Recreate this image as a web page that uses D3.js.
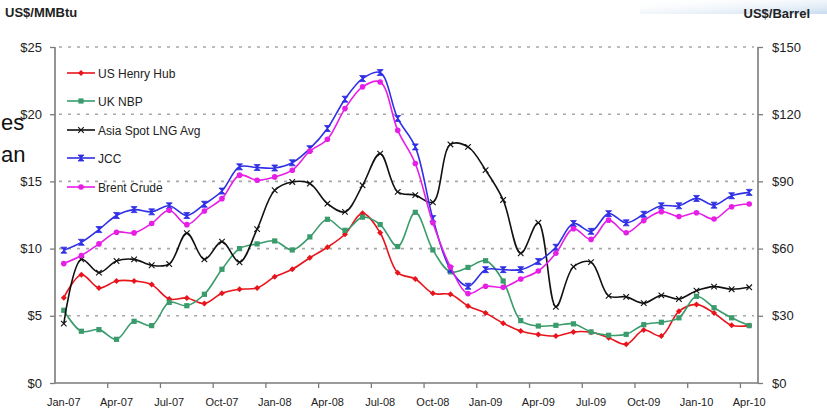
<!DOCTYPE html>
<html><head><meta charset="utf-8">
<script src="https://cdn.jsdelivr.net/npm/d3@7"></script>
<style>
html,body{margin:0;padding:0;background:#fff;}
svg{display:block;font-family:Arial,"Liberation Sans",sans-serif;}
</style></head>
<body><svg id="c" width="827" height="415"></svg>
<script>
const categories = ["Jan-07","Feb-07","Mar-07","Apr-07","May-07","Jun-07","Jul-07","Aug-07","Sep-07","Oct-07","Nov-07","Dec-07",
 "Jan-08","Feb-08","Mar-08","Apr-08","May-08","Jun-08","Jul-08","Aug-08","Sep-08","Oct-08","Nov-08","Dec-08",
 "Jan-09","Feb-09","Mar-09","Apr-09","May-09","Jun-09","Jul-09","Aug-09","Sep-09","Oct-09","Nov-09","Dec-09",
 "Jan-10","Feb-10","Mar-10","Apr-10"];
const tickLabels = ["Jan-07","Apr-07","Jul-07","Oct-07","Jan-08","Apr-08","Jul-08","Oct-08","Jan-09","Apr-09","Jul-09","Oct-09","Jan-10","Apr-10"];
const leftTicks = [0,5,10,15,20,25];
const rightTicks = [0,30,60,90,120,150];
// US$/MMBtu
const henryHub = [6.35,8.06,7.07,7.59,7.59,7.32,6.25,6.33,5.92,6.68,6.97,7.07,7.9,8.46,9.32,10.1,11.07,12.63,11.18,8.21,7.74,6.67,6.6,5.73,5.2,4.45,3.87,3.6,3.5,3.8,3.77,3.37,2.88,3.94,3.5,5.33,5.85,5.2,4.29,4.27];
const ukNBP = [5.41,3.85,3.97,3.25,4.59,4.27,6.0,5.75,6.6,8.46,10.0,10.35,10.57,9.9,10.87,12.18,11.36,12.34,11.79,10.15,12.7,9.9,8.27,8.6,9.1,7.59,4.64,4.24,4.29,4.4,3.8,3.55,3.62,4.34,4.52,4.85,6.45,5.6,4.85,4.27];
const asiaLNG = [4.42,9.2,8.21,9.08,9.2,8.76,8.85,11.15,9.2,10.52,8.98,11.45,14.34,14.96,14.84,13.35,12.73,14.71,17.07,14.22,13.98,13.45,17.75,17.57,15.84,13.62,9.65,11.92,5.67,8.65,8.99,6.48,6.41,5.94,6.52,6.25,6.87,7.17,6.98,7.12];
// US$/Barrel
const jcc = [59.3,62.8,68.5,74.8,77.4,76.4,79.1,74.8,79.8,85.7,96.5,96.2,96.0,98.3,104.6,113.6,126.7,135.9,138.6,118.1,105.4,73.4,50.8,43.2,50.6,50.6,50.6,54.2,60.6,71.2,67.7,75.6,71.5,75.3,79.1,79.1,82.4,79.4,83.6,85.1];
const brent = [53.3,56.9,62.1,67.3,67.0,71.2,77.1,70.7,76.8,82.3,92.8,90.5,92.0,95.0,103.5,108.8,122.5,132.2,134.4,112.8,98.0,71.5,51.8,39.9,43.2,42.7,46.4,50.0,57.9,68.9,64.1,72.7,67.1,72.5,76.5,74.3,76.0,73.2,78.7,79.9];

const seriesNames = ["US Henry Hub","UK NBP","Asia Spot LNG Avg","JCC","Brent Crude"];
const seriesColors = ["#e8141c","#3a9b6c","#111111","#2f2fe6","#e61ee6"];

const svg = d3.select("#c");
const L = 55, R = 758, T = 47, B = 383;

// slide background hint top-right
const defs = svg.append("defs");
const g1 = defs.append("linearGradient").attr("id","tr").attr("x1","0").attr("y1","0").attr("x2","1").attr("y2","1");
g1.append("stop").attr("offset","0").attr("stop-color","#ffffff").attr("stop-opacity",0);
g1.append("stop").attr("offset","1").attr("stop-color","#b9d2ea").attr("stop-opacity",0.8);
svg.append("rect").attr("x",640).attr("y",0).attr("width",187).attr("height",14).attr("fill","url(#tr)");

const x = d3.scaleBand().domain(categories).range([L, R]).padding(0);
const bw = x.bandwidth();
const yL = d3.scaleLinear().domain([0,25]).range([B,T]);
const yR = d3.scaleLinear().domain([0,150]).range([B,T]);

// gridlines
svg.append("g").selectAll("line").data(leftTicks.filter(d=>d>0)).join("line")
  .attr("x1",L+4).attr("x2",R-4).attr("y1",d=>yL(d)).attr("y2",d=>yL(d))
  .attr("stroke","#a8a8a8").attr("stroke-width",1.6).attr("stroke-dasharray","3,6");

// axes
const axL = svg.append("g").attr("transform",`translate(${L},0)`)
  .call(d3.axisLeft(yL).tickValues(leftTicks).tickFormat(d=>"$"+d).tickSize(5).tickPadding(8));
const axR = svg.append("g").attr("transform",`translate(${R},0)`)
  .call(d3.axisRight(yR).tickValues(rightTicks).tickFormat(d=>"$"+d).tickSize(5).tickPadding(9));
const axB = svg.append("g").attr("transform",`translate(0,${B})`)
  .call(d3.axisBottom(x).tickValues(tickLabels).tickSize(0).tickPadding(15));
[axL,axR,axB].forEach(a=>{
  a.select(".domain").attr("stroke","#7a7a7a").attr("stroke-width",1.6);
  a.selectAll(".tick line").attr("stroke","#7a7a7a").attr("stroke-width",1.3);
  a.selectAll("text").attr("fill","#222").attr("font-family","Arial, 'Liberation Sans', sans-serif");
});
axL.selectAll("text").attr("font-size",13);
axR.selectAll("text").attr("font-size",13);
axB.selectAll("text").attr("font-size",11);
axB.select(".domain").attr("d",`M${L},0H${R}`);
axL.select(".domain").attr("d",`M0,${T}V${B}`);
axR.select(".domain").attr("d",`M0,${T}V${B}`);
// quarter boundary ticks on x axis
svg.append("g").selectAll("line").data(tickLabels.slice(1)).join("line")
  .attr("x1",d=>x(d)).attr("x2",d=>x(d)).attr("y1",B).attr("y2",B+5)
  .attr("stroke","#7a7a7a").attr("stroke-width",1.3);

// titles
svg.append("text").attr("x",5).attr("y",17).attr("font-size",13).attr("font-weight","bold").attr("fill","#222").text("US$/MMBtu");
svg.append("text").attr("x",810).attr("y",18).attr("text-anchor","end").attr("font-size",13).attr("font-weight","bold").attr("fill","#222").text("US$/Barrel");

// series
const allSeries = [
  {vals:henryHub, y:yL, marker:"diamond"},
  {vals:ukNBP, y:yL, marker:"square"},
  {vals:asiaLNG, y:yL, marker:"x"},
  {vals:jcc, y:yR, marker:"hour"},
  {vals:brent, y:yR, marker:"circle"}
];
function drawMarker(g, type, color, cx, cy){
  if(type==="diamond"){
    g.append("path").attr("d",`M${cx},${cy-3}L${cx+3},${cy}L${cx},${cy+3}L${cx-3},${cy}Z`).attr("fill",color);
  } else if(type==="square"){
    g.append("rect").attr("x",cx-2.6).attr("y",cy-2.6).attr("width",5.2).attr("height",5.2).attr("fill",color);
  } else if(type==="circle"){
    g.append("circle").attr("cx",cx).attr("cy",cy).attr("r",2.8).attr("fill",color);
  } else if(type==="x"){
    g.append("path").attr("d",`M${cx-2.8},${cy-2.8}L${cx+2.8},${cy+2.8}M${cx-2.8},${cy+2.8}L${cx+2.8},${cy-2.8}`).attr("stroke",color).attr("stroke-width",1.1);
  } else if(type==="hour"){
    g.append("path").attr("d",`M${cx-3},${cy-3}H${cx+3}L${cx-3},${cy+3}H${cx+3}Z`).attr("fill",color).attr("stroke",color).attr("stroke-width",0.8);
  }
}
allSeries.forEach((s,k)=>{
  const color = seriesColors[k];
  const line = d3.line().x((d,i)=>x(categories[i])+bw/2).y(d=>s.y(d)).curve(d3.curveCatmullRom.alpha(0.5));
  const g = svg.append("g");
  g.append("path").attr("d",line(s.vals)).attr("fill","none").attr("stroke",color).attr("stroke-width",1.6);
  s.vals.forEach((d,i)=>drawMarker(g,s.marker,color,x(categories[i])+bw/2,s.y(d)));
});

// legend
const legY = [73,101,130,158,187];
const lg = svg.append("g");
seriesNames.forEach((n,k)=>{
  const c = seriesColors[k], yy = legY[k];
  lg.append("line").attr("x1",67).attr("x2",95).attr("y1",yy).attr("y2",yy).attr("stroke",c).attr("stroke-width",1.6);
  drawMarker(lg, allSeries[k].marker, c, 81, yy);
  lg.append("text").attr("x",98).attr("y",yy+4.5).attr("font-size",12).attr("fill","#222").text(n);
});

// slide text fragments
svg.append("text").attr("x",1).attr("y",130).attr("font-size",22).attr("fill","#111").text("es");
svg.append("text").attr("x",1).attr("y",162).attr("font-size",22).attr("fill","#111").text("an");
</script></body></html>
